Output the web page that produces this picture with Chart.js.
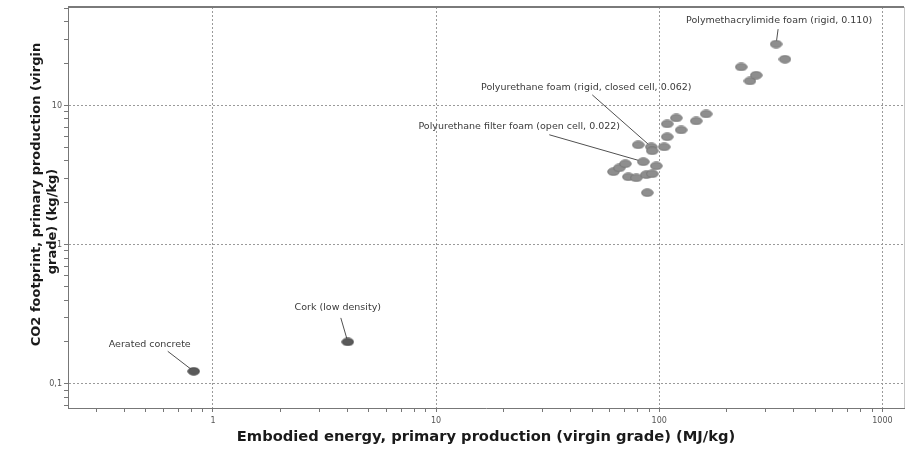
<!DOCTYPE html>
<html>
<head>
<meta charset="utf-8">
<script src="https://cdn.jsdelivr.net/npm/chart.js@4.4.1/dist/chart.umd.min.js"></script>
<style>
    html, body { margin: 0; padding: 0; background: #fff; }
    #wrap { width: 911px; height: 450px; position: relative; }
</style>
</head>
<body>
<div id="wrap"><canvas id="chart"></canvas></div>
<script>
// Foam cluster: embodied energy (MJ/kg) and CO2 footprint (kg/kg)
const foamEnergy = [62.3, 66.2, 70.5, 72.7, 78.9, 87.5, 93.0, 88.4, 84.8, 97.0,
                    80.5, 92.1, 93.0, 105.3, 108.6, 125.4, 108.6, 119.2, 146.5, 162.3,
                    233, 255, 272, 334, 366];
const foamCO2 = [3.34, 3.56, 3.81, 3.07, 3.02, 3.18, 3.23, 2.36, 3.94, 3.68,
                 5.21, 5.04, 4.72, 5.04, 5.95, 6.67, 7.37, 8.13, 7.74, 8.69,
                 18.9, 15.0, 16.5, 27.6, 21.5];

// Cork and aerated concrete
const otherEnergy = [0.82, 4.02];
const otherCO2 = [0.123, 0.20];

// Axis ranges and tick labels
const xRange = [0.224, 1250];
const yRange = [0.067, 51];
const xMajorTicks = [1, 10, 100, 1000];
const xTickLabels = ['1', '10', '100', '1000'];
const yMajorTicks = [0.1, 1, 10];
const yTickLabels = ['0,1', '1', '10'];
const yTitleLines = ['CO2 footprint, primary production (virgin', 'grade) (kg/kg)'];

// Callouts: dataset, point index, label text
const calloutSet = ['foam', 'foam', 'foam', 'other', 'other'];
const calloutIndex = [23, 11, 8, 1, 0];
const calloutText = [
    'Polymethacrylimide foam (rigid, 0.110)',
    'Polyurethane foam (rigid, closed cell, 0.062)',
    'Polyurethane filter foam (open cell, 0.022)',
    'Cork (low density)',
    'Aerated concrete'
];
// label offset and leader start, relative to the point (px)
const calloutOffsets = [
    { tx: 3, ty: -24, lx: 2, ly: -15 },
    { tx: -65, ty: -59, lx: -59, ly: -52 },
    { tx: -124, ty: -35, lx: -94, ly: -27 },
    { tx: -10, ty: -34, lx: -7, ly: -24 },
    { tx: -44, ty: -27, lx: -26, ly: -20 }
];

function makeEllipse(fill, stroke) {
    const c = document.createElement('canvas');
    c.width = 13;
    c.height = 9;
    const g = c.getContext('2d');
    g.beginPath();
    g.ellipse(6.5, 4.5, 5.8, 3.8, 0, 0, Math.PI * 2);
    g.fillStyle = fill;
    g.fill();
    g.lineWidth = 0.8;
    g.strokeStyle = stroke;
    g.stroke();
    return c;
}

function decadeTicks(min, max) {
    const ticks = [];
    for (let e = Math.floor(Math.log10(min)); e <= Math.ceil(Math.log10(max)); e++) {
        for (let m = 1; m <= 9; m++) {
            const v = m * Math.pow(10, e);
            if (v >= min && v <= max) ticks.push({ value: v });
        }
    }
    return ticks;
}

function isMajor(v, majors) {
    return majors.some(m => Math.abs(v - m) / m < 1e-6);
}

const foamPoints = foamEnergy.map((x, i) => ({ x: x, y: foamCO2[i] }));
const otherPoints = otherEnergy.map((x, i) => ({ x: x, y: otherCO2[i] }));

const frameAndCallouts = {
    id: 'frameAndCallouts',
    beforeDatasetsDraw(chart) {
        const ctx = chart.ctx;
        const a = chart.chartArea;
        ctx.save();
        // top frame line
        ctx.strokeStyle = '#7a7a7a';
        ctx.lineWidth = 2;
        ctx.beginPath();
        ctx.moveTo(a.left, a.top);
        ctx.lineTo(a.right, a.top);
        ctx.stroke();
        // right frame line
        ctx.strokeStyle = '#c8c8c8';
        ctx.lineWidth = 1;
        ctx.beginPath();
        ctx.moveTo(a.right + 0.5, a.top);
        ctx.lineTo(a.right + 0.5, a.bottom);
        ctx.stroke();
        // leader lines
        ctx.strokeStyle = '#505050';
        ctx.lineWidth = 1;
        calloutText.forEach((t, i) => {
            const p = pointPixel(chart, i);
            const o = calloutOffsets[i];
            ctx.beginPath();
            ctx.moveTo(p.x + o.lx, p.y + o.ly);
            ctx.lineTo(p.x, p.y);
            ctx.stroke();
        });
        ctx.restore();
    },
    afterDatasetsDraw(chart) {
        const ctx = chart.ctx;
        const a = chart.chartArea;
        ctx.save();
        ctx.font = '9.5px "DejaVu Sans"';
        ctx.fillStyle = '#3a3a3a';
        ctx.textAlign = 'center';
        ctx.textBaseline = 'middle';
        calloutText.forEach((t, i) => {
            const p = pointPixel(chart, i);
            const o = calloutOffsets[i];
            ctx.fillText(t, p.x + o.tx, p.y + o.ty);
        });

        // y axis title, two lines, each centred on its own spot
        const midY = (a.top + a.bottom) / 2;
        ctx.font = 'bold 13px "DejaVu Sans"';
        ctx.fillStyle = '#1a1a1a';
        [[a.left - 31, midY - 13], [a.left - 15, midY + 14]].forEach((pos, i) => {
            ctx.save();
            ctx.translate(pos[0], pos[1]);
            ctx.rotate(-Math.PI / 2);
            ctx.fillText(yTitleLines[i], 0, 0);
            ctx.restore();
        });
        ctx.restore();
    }
};

function pointPixel(chart, i) {
    const arrX = calloutSet[i] === 'foam' ? foamEnergy : otherEnergy;
    const arrY = calloutSet[i] === 'foam' ? foamCO2 : otherCO2;
    return {
        x: chart.scales.x.getPixelForValue(arrX[calloutIndex[i]]),
        y: chart.scales.y.getPixelForValue(arrY[calloutIndex[i]])
    };
}

const ctx = document.getElementById('chart').getContext('2d');
window.co2Chart = new Chart(ctx, {
    type: 'scatter',
    data: {
        datasets: [{
            label: 'Foams',
            data: foamPoints,
            pointStyle: makeEllipse('#8e8e8e', '#6e6e6e'),
            pointRadius: 6
        }, {
            label: 'Other',
            data: otherPoints,
            pointStyle: makeEllipse('#5a5a5a', '#444444'),
            pointRadius: 6
        }]
    },
    options: {
        responsive: true,
        maintainAspectRatio: false,
        animation: false,
        layout: {
            padding: { top: 6, right: 6, left: 0, bottom: 0 }
        },
        plugins: {
            legend: { display: false },
            tooltip: { enabled: false }
        },
        scales: {
            x: {
                type: 'logarithmic',
                min: xRange[0],
                max: xRange[1],
                afterBuildTicks: scale => { scale.ticks = decadeTicks(xRange[0], xRange[1]); },
                afterFit: scale => { scale.height = 42; },
                ticks: {
                    autoSkip: false,
                    maxRotation: 0,
                    padding: 4,
                    color: '#555',
                    font: { family: 'DejaVu Sans', size: 8 },
                    callback: v => {
                        const k = xMajorTicks.findIndex(m => Math.abs(v - m) / m < 1e-6);
                        return k >= 0 ? xTickLabels[k] : '';
                    }
                },
                grid: {
                    color: c => isMajor(c.tick.value, xMajorTicks) ? '#9a9a9a' : 'rgba(0,0,0,0)',
                    tickColor: '#777',
                    tickLength: 4
                },
                border: { color: '#777', width: 1, dash: [2, 2] },
                title: {
                    display: true,
                    text: 'Embodied energy, primary production (virgin grade) (MJ/kg)',
                    color: '#1a1a1a',
                    font: { family: 'DejaVu Sans', size: 14.7, weight: 'bold' },
                    padding: { top: 0, bottom: 4 }
                }
            },
            y: {
                type: 'logarithmic',
                min: yRange[0],
                max: yRange[1],
                afterBuildTicks: scale => { scale.ticks = decadeTicks(yRange[0], yRange[1]); },
                afterFit: scale => { scale.width = 68; },
                ticks: {
                    autoSkip: false,
                    padding: 2,
                    color: '#555',
                    font: { family: 'DejaVu Sans', size: 8 },
                    callback: v => {
                        const k = yMajorTicks.findIndex(m => Math.abs(v - m) / m < 1e-6);
                        return k >= 0 ? yTickLabels[k] : '';
                    }
                },
                grid: {
                    color: c => isMajor(c.tick.value, yMajorTicks) ? '#9a9a9a' : 'rgba(0,0,0,0)',
                    tickColor: '#777',
                    tickLength: 4
                },
                border: { color: '#777', width: 1, dash: [2, 2] },
                title: { display: false }
            }
        }
    },
    plugins: [frameAndCallouts]
});
</script>
</body>
</html>
